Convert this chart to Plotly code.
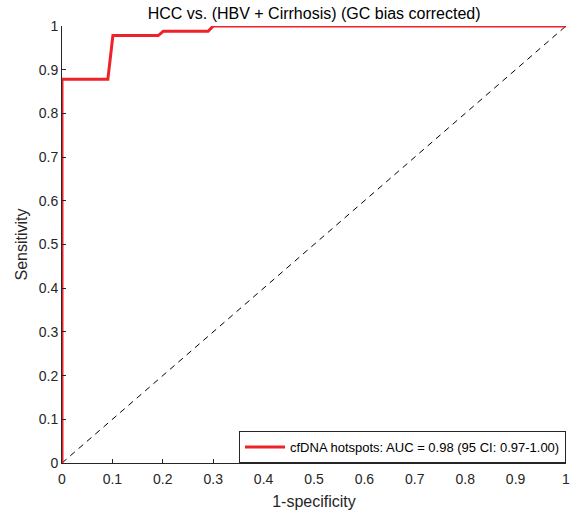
import plotly.graph_objects as go

fpr = [0, 0, 0.091, 0.101, 0.191, 0.201, 0.29, 0.30, 1.0]
tpr = [0, 0.878, 0.878, 0.978, 0.978, 0.988, 0.988, 1.0, 1.0]
diag_x = [0, 1]
diag_y = [0, 1]
legend_label = "cfDNA hotspots: AUC = 0.98 (95 CI: 0.97-1.00)"
ticks = [0, 0.1, 0.2, 0.3, 0.4, 0.5, 0.6, 0.7, 0.8, 0.9, 1]
tick_text = ["0", "0.1", "0.2", "0.3", "0.4", "0.5", "0.6", "0.7", "0.8", "0.9", "1"]

fig = go.Figure()
fig.add_trace(go.Scatter(x=diag_x, y=diag_y, mode="lines",
                         line=dict(color="black", width=1, dash="6px,5px"),
                         showlegend=False, hoverinfo="skip"))
fig.add_trace(go.Scatter(x=fpr, y=tpr, mode="lines", name=legend_label,
                         line=dict(color="#ee2229", width=3), cliponaxis=False))

axis_common = dict(range=[0, 1], tickvals=ticks, ticktext=tick_text,
                   ticks="inside", ticklen=4, tickcolor="#262626",
                   showline=True, linecolor="#262626", linewidth=1,
                   showgrid=False, zeroline=False, automargin=False,
                   tickfont=dict(size=14, color="#262626"))

fig.update_layout(
    width=579, height=516,
    margin=dict(l=62, r=13, t=26, b=53),
    plot_bgcolor="white", paper_bgcolor="white",
    font=dict(family="Liberation Sans, Arial, sans-serif", color="#262626"),
    title=dict(text="HCC vs. (HBV + Cirrhosis) (GC bias corrected)",
               x=0.5425, xanchor="center", y=0.975, yanchor="middle",
               font=dict(size=16, color="#000000")),
    xaxis=dict(title=dict(text="1-specificity", font=dict(size=16), standoff=10),
               ticklabelstandoff=3, **axis_common),
    yaxis=dict(title=dict(text="Sensitivity", font=dict(size=16), standoff=7), **axis_common),
    legend=dict(x=1, y=0, xanchor="right", yanchor="bottom",
                bordercolor="#262626", borderwidth=1, bgcolor="white",
                font=dict(size=13, color="#000000"),
                itemwidth=40, tracegroupgap=0),
)

fig.write_html("out.html")
